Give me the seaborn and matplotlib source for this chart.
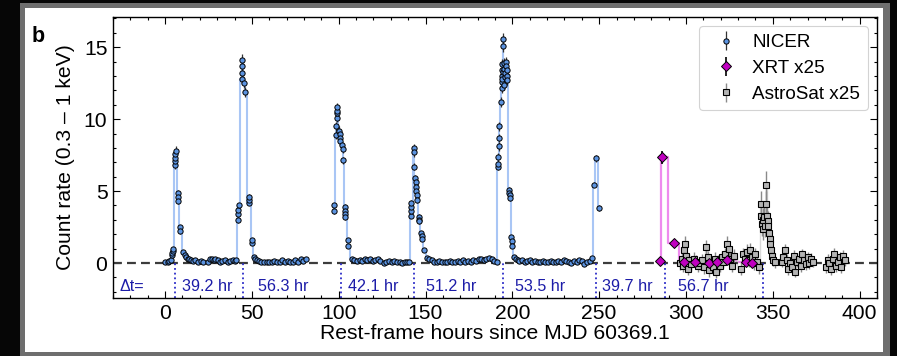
import numpy as np
import pandas as pd
import matplotlib
matplotlib.use("Agg")
import matplotlib.pyplot as plt
from matplotlib.patches import Rectangle
from matplotlib.ticker import MultipleLocator
import seaborn as sns

# ---------------------------------------------------------------
# NICER 0.3-1 keV count rate (rest-frame hours since MJD 60369.1)
# ---------------------------------------------------------------
nicer_t = [
    # flare 1
    0.0, 1.5, 2.4, 3.2, 4.0, 4.2, 4.4, 4.6, 5.6, 5.7,
    5.8, 5.9, 6.0, 7.2, 7.3, 7.4, 8.6, 8.7, 10.4, 11.2,
    12.0, 13.0, 14.0, 15.0, 16.2, 17.5, 19.0, 20.5, 22.0, 24.5,
    26.0, 27.0, 28.0, 29.0, 30.5, 31.5, 33.0, 34.5, 36.0, 37.5,
    39.0, 40.0, 41.0,
    # flare 2
    42.0, 42.1, 42.2, 42.3, 44.2, 44.3, 44.4, 44.5, 45.5, 46.0,
    48.4, 48.5, 48.6, 49.8, 49.9, 51.2, 52.0, 53.0, 54.0, 55.5,
    57.0, 58.5, 60.0, 61.5, 63.0, 64.5, 66.0, 67.5, 69.0, 70.5,
    72.0, 73.5, 75.0, 76.5, 78.0, 79.5, 81.0,
    # flare 3
    97.2, 97.4, 98.6, 98.7, 98.8, 98.9, 99.0, 99.1, 100.4, 100.6,
    100.8, 101.0, 102.0, 102.2, 102.4, 103.4, 103.5, 103.6, 103.7, 105.4,
    105.6, 107.8, 109.0, 110.5, 112.0, 113.5, 115.0, 116.5, 118.0, 119.5,
    121.0, 122.5, 124.0, 126.0, 127.5, 129.0, 130.5, 132.0, 133.5, 135.0,
    136.5, 138.0, 139.5, 140.5,
    # flare 4
    141.6, 141.7, 141.8, 141.9, 143.2, 143.3, 143.5, 143.7, 144.5, 144.6,
    144.7, 144.8, 144.9, 146.1, 146.2, 146.3, 147.6, 147.7, 147.8, 149.3,
    150.8, 152.0, 153.5, 155.0, 156.5, 158.0, 159.5, 161.0, 162.5, 164.0,
    165.5, 167.0, 168.5, 170.0, 171.5, 173.0, 174.5, 176.0, 177.5, 179.0,
    180.5, 182.0, 183.5, 185.0, 186.5, 188.0, 189.5, 191.0,
    # flare 5
    191.8, 191.9, 192.0, 192.1, 192.2, 192.3, 193.6, 193.8, 193.9, 194.0,
    194.1, 194.2, 194.3, 194.5, 194.6, 194.7, 194.9, 195.1, 195.3, 195.5,
    195.7, 196.5, 196.6, 196.7, 196.8, 196.9, 198.2, 198.3, 198.4, 198.5,
    199.5, 199.6, 199.7, 201.0, 202.0, 203.0, 204.0, 205.5, 207.0, 208.5,
    210.0, 211.5, 213.0, 214.5, 216.0, 217.5, 219.0, 220.5, 222.0, 223.5,
    225.0, 226.5, 228.0, 229.5, 231.0, 232.5, 234.0, 235.5, 237.0, 238.5,
    240.0, 241.5, 243.0, 244.5, 245.6,
    # flare 6
    247.1, 248.4, 250.0,
]
nicer_rate = [
    0.05, 0.1, 0.15, 0.2, 0.55, 0.7, 0.85, 1.0, 6.8, 7.1,
    7.3, 7.55, 7.8, 4.9, 4.6, 4.3, 2.5, 2.2, 0.8, 0.55,
    0.4, 0.3, 0.3, 0.2, 0.15, 0.2, 0.1, 0.15, 0.05, 0.1,
    0.25, 0.3, 0.2, 0.25, 0.2, 0.1, 0.15, 0.2, 0.1, 0.15,
    0.2, 0.15, 0.2,
    3.0, 3.4, 3.7, 4.0, 12.8, 13.2, 13.7, 14.1, 12.5, 11.9,
    4.2, 4.4, 4.6, 1.4, 1.6, 0.4, 0.3, 0.2, 0.15, 0.1,
    0.05, 0.1, 0.05, 0.1, 0.15, 0.05, 0.1, 0.2, 0.1, 0.15,
    0.1, 0.05, 0.2, 0.1, 0.25, 0.15, 0.3,
    3.6, 4.0, 8.9, 9.5, 10.1, 10.4, 10.6, 10.85, 9.2, 9.0,
    8.7, 8.5, 8.2, 7.9, 7.15, 3.9, 3.6, 3.4, 3.2, 1.6,
    1.2, 0.3, 0.2, 0.15, 0.2, 0.15, 0.25, 0.2, 0.3, 0.15,
    0.2, 0.3, 0.15, 0.0, 0.1, 0.15, 0.1, 0.15, 0.05, 0.1,
    0.0, 0.1, 0.05, 0.1,
    3.3, 3.6, 3.9, 4.2, 8.0, 7.7, 6.7, 5.9, 5.6, 5.3,
    5.0, 4.7, 4.4, 3.2, 3.0, 2.9, 2.1, 1.9, 1.7, 0.9,
    0.35, 0.3, 0.2, 0.1, 0.05, 0.15, 0.1, 0.05, 0.1, 0.15,
    0.05, 0.1, 0.15, 0.1, 0.2, 0.05, 0.15, 0.1, 0.2, 0.15,
    0.25, 0.3, 0.2, 0.25, 0.35, 0.3, 0.15, 0.1,
    6.7, 6.9, 7.4, 8.1, 8.7, 9.5, 11.2, 12.2, 12.6, 13.0,
    13.4, 13.8, 12.8, 13.3, 15.1, 15.6, 13.9, 13.5, 12.4, 12.9,
    13.2, 14.0, 13.7, 13.4, 13.0, 12.7, 5.1, 4.9, 4.7, 4.5,
    1.8, 1.5, 1.2, 0.45, 0.3, 0.2, 0.15, 0.2, 0.1, 0.15,
    0.2, 0.1, 0.15, 0.05, 0.1, 0.15, 0.05, 0.1, 0.15, 0.05,
    0.1, 0.15, 0.1, 0.2, 0.15, 0.1, 0.0, 0.15, 0.1, 0.2,
    0.15, -0.05, 0.1, 0.15, 0.35,
    5.45, 7.27, 3.8,
]
nicer_err = [
    0.05, 0.05, 0.05, 0.05, 0.08, 0.08, 0.1, 0.1, 0.25, 0.25,
    0.25, 0.25, 0.3, 0.2, 0.2, 0.2, 0.15, 0.15, 0.1, 0.08,
    0.06, 0.06, 0.06, 0.05, 0.05, 0.05, 0.05, 0.05, 0.05, 0.05,
    0.05, 0.05, 0.05, 0.05, 0.05, 0.05, 0.05, 0.05, 0.05, 0.05,
    0.05, 0.05, 0.05,
    0.2, 0.2, 0.2, 0.2, 0.35, 0.35, 0.35, 0.4, 0.35, 0.35,
    0.2, 0.2, 0.2, 0.12, 0.12, 0.08, 0.06, 0.06, 0.05, 0.05,
    0.05, 0.05, 0.05, 0.05, 0.05, 0.05, 0.05, 0.05, 0.05, 0.05,
    0.05, 0.05, 0.05, 0.05, 0.05, 0.05, 0.05,
    0.2, 0.2, 0.3, 0.3, 0.3, 0.3, 0.3, 0.3, 0.3, 0.3,
    0.3, 0.3, 0.25, 0.25, 0.25, 0.2, 0.2, 0.2, 0.2, 0.12,
    0.1, 0.06, 0.05, 0.05, 0.05, 0.05, 0.05, 0.05, 0.05, 0.05,
    0.05, 0.05, 0.05, 0.05, 0.05, 0.05, 0.05, 0.05, 0.05, 0.05,
    0.05, 0.05, 0.05, 0.05,
    0.2, 0.2, 0.2, 0.2, 0.3, 0.3, 0.25, 0.25, 0.25, 0.25,
    0.25, 0.2, 0.2, 0.18, 0.18, 0.18, 0.15, 0.15, 0.15, 0.1,
    0.06, 0.06, 0.05, 0.05, 0.05, 0.05, 0.05, 0.05, 0.05, 0.05,
    0.05, 0.05, 0.05, 0.05, 0.05, 0.05, 0.05, 0.05, 0.05, 0.05,
    0.05, 0.05, 0.05, 0.05, 0.05, 0.05, 0.05, 0.05,
    0.25, 0.25, 0.25, 0.3, 0.3, 0.3, 0.35, 0.35, 0.35, 0.35,
    0.35, 0.35, 0.35, 0.35, 0.4, 0.4, 0.35, 0.35, 0.35, 0.35,
    0.35, 0.35, 0.35, 0.35, 0.35, 0.35, 0.2, 0.2, 0.2, 0.2,
    0.12, 0.12, 0.1, 0.08, 0.06, 0.05, 0.05, 0.05, 0.05, 0.05,
    0.05, 0.05, 0.05, 0.05, 0.05, 0.05, 0.05, 0.05, 0.05, 0.05,
    0.05, 0.05, 0.05, 0.05, 0.05, 0.05, 0.05, 0.05, 0.05, 0.05,
    0.05, 0.05, 0.05, 0.05, 0.06,
    0.2, 0.25, 0.2,
]

# Swift/XRT rate, scaled x25
xrt_t = [285.3, 286.4, 293.0, 298.7, 305.4, 313.1, 318.0, 323.6, 334.7, 338.2]
xrt_rate = [0.15, 7.35, 1.4, 0.1, 0.05, 0.0, 0.05, 0.2, 0.1, 0.0]
xrt_err = [0.1, 0.45, 0.15, 0.1, 0.1, 0.1, 0.1, 0.1, 0.1, 0.1]

# AstroSat rate, scaled x25
astrosat_t = [
    296.5, 297.5, 298.5, 299.0, 299.5, 300.0, 301.0, 302.0, 303.0, 304.5,
    306.0, 307.0, 308.0, 309.5, 310.5, 311.5, 312.5, 313.5, 314.5, 315.5,
    316.5, 317.5, 318.5, 319.5, 320.5, 321.5, 322.5, 323.5, 324.5, 325.5,
    326.5, 327.5, 331.5, 333.0, 334.0, 335.0, 336.0, 337.0, 338.0, 339.0,
    340.0, 341.0, 342.0,
    343.0, 343.4, 343.8, 344.2, 344.6, 345.0, 345.4, 345.8, 346.2, 346.6,
    347.0, 347.4, 347.8, 348.2, 348.6, 349.0, 349.5, 350.0, 351.5,
    355.0, 356.0, 357.0, 358.0, 359.0, 360.0, 361.0, 362.0, 363.0, 364.0,
    365.0, 366.0, 367.0, 368.0, 369.0, 370.0, 371.0, 372.0, 373.0,
    380.5, 381.5, 382.5, 383.5, 384.5, 385.5, 386.5, 387.5, 388.5, 389.5,
    390.5, 391.5,
]
astrosat_rate = [
    0.0, 0.3, -0.2, 0.9, 1.3, 0.5, -0.4, 0.2, -0.1, 0.3,
    0.1, -0.2, 0.0, 0.2, -0.3, 1.1, 0.4, -0.5, 0.0, -0.3,
    0.3, -0.6, 0.1, -0.2, 0.4, 0.1, 0.6, 1.3, 1.0, 0.3,
    -0.2, 0.5, -0.4, 0.6, 0.3, 0.8, 0.2, 0.9, 0.4, 0.0,
    0.6, 0.1, -0.3,
    4.1, 3.3, 2.7, 2.4, 3.0, 3.2, 2.6, 4.1, 5.4, 3.3,
    2.9, 2.6, 2.1, 1.7, 1.3, 0.9, 0.5, 0.2, 0.05,
    0.1, 0.4, 0.9, 0.2, -0.4, 0.0, -0.3, 0.5, -0.6, 0.1,
    0.3, -0.2, 0.6, 0.2, -0.1, 0.4, 0.0, 0.3, 0.1,
    -0.3, 0.2, 0.0, -0.4, 0.3, 0.6, -0.2, 0.1, 0.4, -0.3,
    0.5, 0.2,
]
astrosat_err = [
    0.45, 0.45, 0.45, 0.5, 0.55, 0.45, 0.45, 0.45, 0.45, 0.45,
    0.45, 0.45, 0.45, 0.45, 0.45, 0.5, 0.45, 0.45, 0.45, 0.45,
    0.45, 0.45, 0.45, 0.45, 0.45, 0.45, 0.45, 0.55, 0.5, 0.45,
    0.45, 0.45, 0.45, 0.45, 0.45, 0.5, 0.45, 0.5, 0.45, 0.45,
    0.45, 0.45, 0.45,
    0.9, 0.8, 0.8, 0.8, 0.8, 0.8, 0.8, 0.9, 1.0, 0.8,
    0.7, 0.6, 0.5, 0.5, 0.5, 0.4, 0.4, 0.4, 0.4,
    0.4, 0.4, 0.45, 0.4, 0.4, 0.4, 0.4, 0.4, 0.4, 0.4,
    0.4, 0.4, 0.4, 0.4, 0.4, 0.4, 0.4, 0.4, 0.4,
    0.4, 0.4, 0.4, 0.4, 0.4, 0.45, 0.4, 0.4, 0.4, 0.4,
    0.4, 0.4,
]

# time of the first flare peak and recurrence intervals (hr)
first_peak = 5.8
intervals = [39.2, 56.3, 42.1, 51.2, 53.5, 39.7, 56.7]
interval_label_x = [24.0, 68.0, 120.0, 165.0, 216.0, 266.0, 310.0]

# ---------------------------------------------------------------
sns.set_theme(style="ticks")
plt.rcParams["font.family"] = ["Liberation Sans", "DejaVu Sans"]
plt.rcParams.update({"text.color": "black", "axes.labelcolor": "black",
                     "xtick.color": "black", "ytick.color": "black"})

FS = 15.2


def frame(t, rate, err, gap=5.0):
    df = pd.DataFrame({"t": t, "rate": rate, "err": err})
    df["seg"] = np.concatenate([[0], np.cumsum(np.diff(df["t"].values) > gap)])
    return df


nicer = frame(nicer_t, nicer_rate, nicer_err)
xrt = frame(xrt_t, xrt_rate, xrt_err, gap=50.0)
astro = frame(astrosat_t, astrosat_rate, astrosat_err)

fig = plt.figure(figsize=(8.97, 3.56), dpi=100)
fig.patch.set_facecolor("#060606")
W, H = 897.0, 356.0
fig.patches.append(Rectangle((20 / W, 0), 870 / W, 353 / H,
                             transform=fig.transFigure, facecolor="#6e6e6e",
                             edgecolor="none", zorder=-10))
fig.patches.append(Rectangle((25 / W, 4.3 / H), 858 / W, 343.7 / H,
                             transform=fig.transFigure, facecolor="white",
                             edgecolor="none", zorder=-9))

ax = fig.add_axes([113 / W, 1 - 298 / H, (877 - 113) / W, (298 - 17) / H])
ax.set_facecolor("white")

# connecting step lines
sns.lineplot(data=nicer, x="t", y="rate", units="seg", estimator=None, sort=False,
             drawstyle="steps-mid", color="#a9c6f5", lw=1.5, legend=False, ax=ax,
             zorder=1)
sns.lineplot(data=xrt, x="t", y="rate", units="seg", estimator=None, sort=False,
             drawstyle="steps-mid", color="#ee8bee", lw=1.6, legend=False, ax=ax,
             zorder=1)
sns.lineplot(data=astro, x="t", y="rate", units="seg", estimator=None, sort=False,
             drawstyle="steps-mid", color="#d8d8d8", lw=1.0, legend=False, ax=ax,
             zorder=1)

# zero level
ax.axhline(0, color="#3c3c3c", lw=1.6, ls=(0, (4, 2.3)), zorder=2)

# data points
h_as = ax.errorbar(astro["t"], astro["rate"], yerr=astro["err"], fmt="s", ms=4.6,
                   mfc="#b4b4b4", mec="black", mew=0.8, ecolor="#8a8a8a",
                   elinewidth=1.0, capsize=0, zorder=3, label="AstroSat x25")
h_ni = ax.errorbar(nicer["t"], nicer["rate"], yerr=nicer["err"], fmt="o", ms=3.8,
                   mfc="#5b93e0", mec="black", mew=0.7, ecolor="#333333",
                   elinewidth=0.9, capsize=0, zorder=4, label="NICER")
h_xr = ax.errorbar(xrt["t"], xrt["rate"], yerr=xrt["err"], fmt="D", ms=5.6,
                   mfc="#c000c0", mec="black", mew=0.7, ecolor="black",
                   elinewidth=1.2, capsize=0, zorder=5, label="XRT x25")

# recurrence intervals between flare peaks
ymin, ymax = -2.43, 17.1
peaks = first_peak + np.concatenate([[0.0], np.cumsum(intervals)])
ax.vlines(peaks, ymin, 0, colors="#2b2bc8", linestyles=(0, (1, 1.6)), lw=1.3,
          zorder=2)
txt_kw = dict(color="#1c1ca8", fontsize=11.6, ha="center", va="center")
ax.text(-19, -1.6, "Δt=", **txt_kw)
for xpos, dt in zip(interval_label_x, intervals):
    ax.text(xpos, -1.6, f"{dt:.1f} hr", **txt_kw)

ax.set_xlim(-30, 410)
ax.set_ylim(ymin, ymax)
ax.xaxis.set_major_locator(MultipleLocator(50))
ax.xaxis.set_minor_locator(MultipleLocator(10))
ax.yaxis.set_major_locator(MultipleLocator(5))
ax.yaxis.set_minor_locator(MultipleLocator(1))
ax.tick_params(which="both", direction="in", top=True, right=True,
               color="black", width=0.8, labelsize=FS)
ax.tick_params(which="major", length=5)
ax.tick_params(which="minor", length=2.5)
ax.tick_params(axis="x", pad=4)
ax.tick_params(axis="y", pad=4)
for sp in ax.spines.values():
    sp.set_color("black")
    sp.set_linewidth(1.0)

ax.set_xlabel("Rest-frame hours since MJD 60369.1", fontsize=FS, labelpad=1)
ax.set_ylabel("Count rate (0.3 – 1 keV)", fontsize=FS, labelpad=6)

leg = ax.legend(handles=[h_ni, h_xr, h_as], labels=["NICER", "XRT x25", "AstroSat x25"],
                loc="upper right", fontsize=13.6, frameon=True, fancybox=True,
                handletextpad=0.4, borderpad=0.4, labelspacing=0.45)
leg.get_frame().set_edgecolor("#c8c8c8")
leg.get_frame().set_linewidth(0.8)

fig.text(32 / W, 1 - 42 / H, "b", fontsize=15.5, fontweight="bold", ha="left",
         va="baseline")

fig.savefig("out.png", dpi=100, facecolor=fig.get_facecolor())
